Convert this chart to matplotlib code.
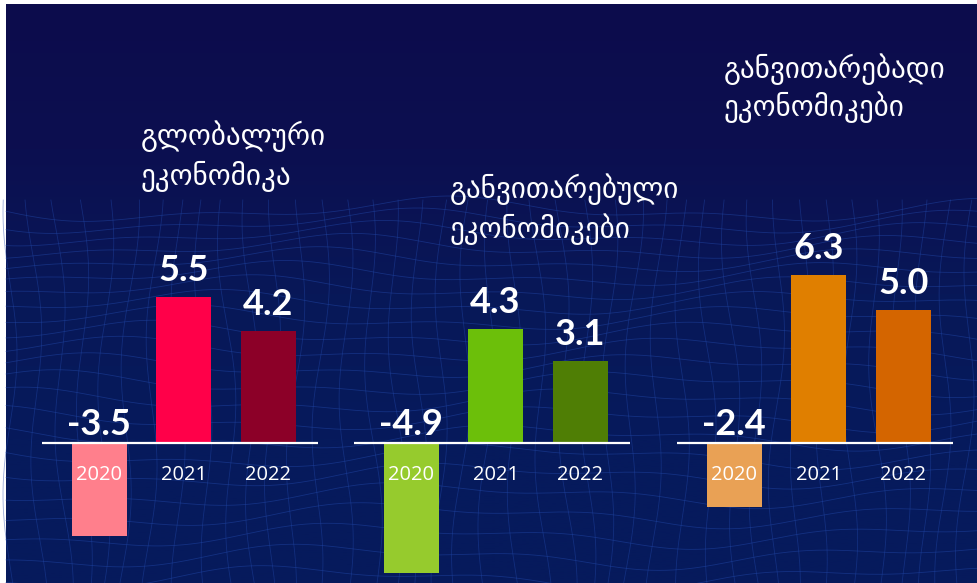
import numpy as np
import matplotlib
matplotlib.use("Agg")
import matplotlib.pyplot as plt
from matplotlib.colors import LinearSegmentedColormap

# ---- data ----
years = ["2020", "2021", "2022"]
group_titles = [
    ["გლობალური", "ეკონომიკა"],
    ["განვითარებული", "ეკონომიკები"],
    ["განვითარებადი", "ეკონომიკები"],
]
global_vals = [-3.5, 5.5, 4.2]
advanced_vals = [-4.9, 4.3, 3.1]
emerging_vals = [-2.4, 6.3, 5.0]
global_colors = ["#ff7f8c", "#ff0049", "#8c0028"]
advanced_colors = ["#96cb2d", "#6cbf0a", "#4f7e05"]
emerging_colors = ["#e9a155", "#e07f00", "#d46500"]

W, H = 978, 583
fig = plt.figure(figsize=(W / 100, H / 100), dpi=100, facecolor="white")

# ---- background ----
bg = fig.add_axes([0, 0, 1, 1])
bg.set_xlim(0, W)
bg.set_ylim(H, 0)
bg.axis("off")
grad = np.linspace(0, 1, 256)[:, None]
cmap = LinearSegmentedColormap.from_list(
    "bg", ["#0d0c4c", "#0c0f50", "#081858", "#061a5c", "#061a5c"])
bg.imshow(grad, extent=(6, W, H, 4), cmap=cmap, aspect="auto", zorder=0)

# decorative wireframe
xx = np.linspace(6, W, 400)
ybase = 210.0
k = 0
while ybase < H + 20:
    yy = ybase + 9 * np.sin(xx / 95 + k * 0.35) + 5 * np.sin(xx / 41 + k * 0.8)
    yy = np.maximum(yy, 4)
    bg.plot(xx, yy, color="#2147a8", lw=0.6, alpha=0.5, zorder=1)
    ybase += 12 + k * 0.45
    k += 1
yy = np.linspace(200, H, 300)
for j, x0 in enumerate(np.arange(10, W + 30, 24)):
    xv = x0 + 7 * np.sin(yy / 45 + j * 0.6) + 0.03 * (yy - 300) * np.sin(j * 0.9)
    bg.plot(xv, yy, color="#2147a8", lw=0.6, alpha=0.45, zorder=1)
bg.set_xlim(0, W)
bg.set_ylim(H, 0)

# ---- bars ----
scale = 26.6
baseline_px = 443
ylim = (-(H - baseline_px) / scale, baseline_px / scale)
lefts = [42, 354, 677]
series = [(global_vals, global_colors), (advanced_vals, advanced_colors),
          (emerging_vals, emerging_colors)]
title_pos = [
    (141, [145, 185]),
    (450, [198, 238]),
    (724, [78, 116]),
]

for left, (vals, cols), (tx, tys), lines in zip(lefts, series, title_pos, group_titles):
    ax = fig.add_axes([left / W, 0, 276 / W, 1])
    ax.patch.set_alpha(0)
    ax.set_xlim(-0.675, 2.59)
    ax.set_ylim(*ylim)
    ax.axis("off")
    x = np.arange(len(years))
    ax.bar(x, vals, width=0.65, color=cols, zorder=2)
    ax.axhline(0, color="white", lw=1.6, zorder=3)
    for xi, v, yr in zip(x, vals, years):
        if v >= 0:
            ax.annotate(f"{v:.1f}", (xi, v), xytext=(0, 11.5), textcoords="offset points",
                        ha="center", va="baseline", fontsize=26, fontweight="bold",
                        color="white", family="Lato", zorder=4)
        else:
            ax.annotate(f"{v:.1f}", (xi, 0), xytext=(0, 5.8), textcoords="offset points",
                        ha="center", va="baseline", fontsize=26, fontweight="bold",
                        color="white", family="Lato", zorder=4)
        ax.annotate(yr, (xi, 0), xytext=(0, -26.6), textcoords="offset points",
                    ha="center", va="baseline", fontsize=14.5, color="white",
                    family="Open Sans", zorder=4)
    for line, ty in zip(lines, tys):
        bg.text(tx, ty, line, va="baseline", ha="left", fontsize=21,
                color="white", family="DejaVu Sans", zorder=5)

fig.savefig("out.png", dpi=100, facecolor="white")
